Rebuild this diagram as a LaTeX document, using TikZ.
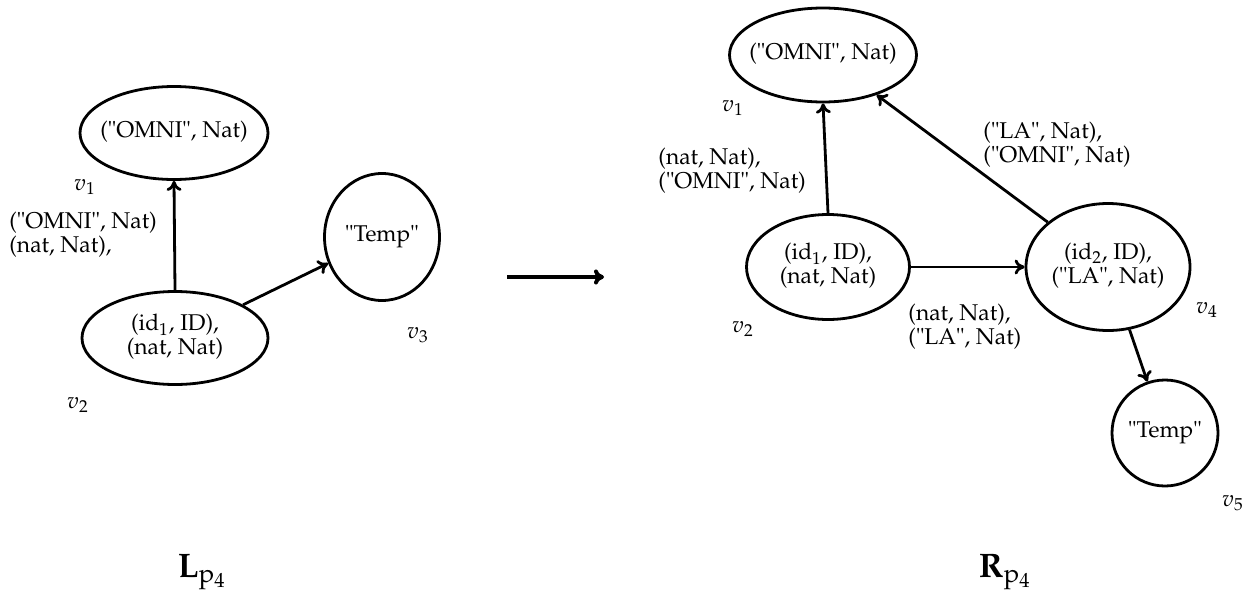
\documentclass[tikz,border=0pt]{standalone}
\usepackage[T1]{fontenc}
\usepackage{mathpazo}
\usetikzlibrary{shapes.geometric,arrows.meta}
\newcommand{\ctext}[1]{\makebox[0pt]{\raisebox{-2.5pt}{\begin{tabular}{@{}c@{}}#1\end{tabular}}}}
\begin{document}
\begin{tikzpicture}[x=0.5pt,y=-0.5pt,
  vtx/.style={draw,ellipse,line width=1.4pt,inner sep=0pt,font=\fontsize{11.4}{12}\selectfont},
  edge/.style={line width=1.4pt,-{To[length=5pt,width=7.5pt]}},
  elab/.style={anchor=west,align=left,inner sep=0pt,font=\fontsize{11.4}{12}\selectfont},
  vlab/.style={inner sep=0pt,font=\fontsize{11.4}{12}\selectfont},
  captext/.style={inner sep=0pt,font=\fontsize{17}{19}\selectfont}]
\useasboundingbox (0,0) rectangle (1252,594);
% left graph
\node[vtx,minimum width=94pt,minimum height=46.5pt] (l1) at (174,133) {\ctext{("OMNI", Nat)}};
\node[vtx,minimum width=93pt,minimum height=46.5pt] (l2) at (175,338) {\ctext{(id$_1$, ID),\\(nat, Nat)}};
\node[vtx,minimum width=57.5pt,minimum height=63.5pt] (l3) at (382,237) {\ctext{"Temp"}};
\node[vlab] (l1n) at (85,187) {$v_1$};
\node[vlab] (l2n) at (78,405) {$v_2$};
\node[vlab] (l3n) at (418,335) {$v_3$};
\draw[edge] (l2.north) -- (l1.south);
\draw[edge] (l2) -- (l3);
\node[elab] (le1) at (9,235) {("OMNI", Nat)\\(nat, Nat),};
% middle arrow
\coordinate (ma) at (507,277);
\coordinate (mb) at (604,277);
\draw[edge,line width=2pt] (ma) -- (mb);
% right graph
\node[vtx,minimum width=93.5pt,minimum height=47pt] (r1) at (823,55) {\ctext{("OMNI", Nat)}};
\node[vtx,minimum width=81.5pt,minimum height=52.5pt] (r2) at (828,267) {\ctext{(id$_1$, ID),\\(nat, Nat)}};
\node[vtx,minimum width=82pt,minimum height=63.5pt] (r4) at (1108,267) {\ctext{(id$_2$, ID),\\("LA", Nat)}};
\node[vtx,minimum width=53pt,minimum height=53pt] (r5) at (1165,433) {\ctext{"Temp"}};
\node[vlab] (r1n) at (733,108) {$v_1$};
\node[vlab] (r2n) at (743,329) {$v_2$};
\node[vlab] (r4n) at (1207,310) {$v_4$};
\node[vlab] (r5n) at (1233,503) {$v_5$};
\draw[edge] (r2.north) -- (r1.south);
\draw[edge] (r4) -- (r1);
\draw[edge] (r2.east) -- (r4.west);
\draw[edge] (r4) -- (r5);
\node[elab] (re1) at (658,171) {(nat, Nat),\\("OMNI", Nat)};
\node[elab] (re2) at (983,145) {("LA", Nat),\\("OMNI", Nat)};
\node[elab] (re3) at (908,327) {(nat, Nat),\\("LA", Nat)};
% captions
\node[captext] (lc) at (202,572) {$\mathbf{L}_{\mathrm{p}_4}$};
\node[captext] (rc) at (1005,572) {$\mathbf{R}_{\mathrm{p}_4}$};
\end{tikzpicture}
\end{document}
